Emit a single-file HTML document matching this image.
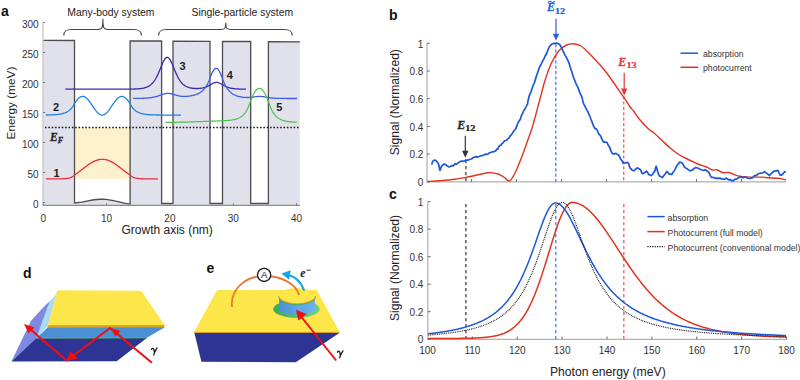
<!DOCTYPE html>
<html><head><meta charset="utf-8"><style>
html,body{margin:0;padding:0;background:#fff;width:800px;height:380px;overflow:hidden}
svg{display:block}
</style></head><body>
<svg width="800" height="380" viewBox="0 0 800 380">
<rect width="800" height="380" fill="#fff"/>
<polygon points="43.5,205.3 43.5,40.3 74.5,40.48 74.5,202.9 82,202.05 88,200.78 94,199.75 100,199.25 102.5,199.24 106,199.44 112,200.3 118,201.62 124,203.07 130.1,204.1 130.1,40.81 161.6,40.99 161.6,203.5 173,203.5 173,41.06 210,41.28 210,203.5 222.5,203.5 222.5,41.35 250.7,41.51 250.7,203.5 268.4,203.5 268.4,41.62 299.8,41.8 299.8,205.3" fill="#e1e1ec"/>
<rect x="74.5" y="127.6" width="55.6" height="51.3" fill="#fdf0cd"/>
<polyline points="43.5,40.3 74.5,40.48 74.5,202.9 82,202.05 88,200.78 94,199.75 100,199.25 102.5,199.24 106,199.44 112,200.3 118,201.62 124,203.07 130.1,204.1 130.1,40.81 161.6,40.99 161.6,203.5 173,203.5 173,41.06 210,41.28 210,203.5 222.5,203.5 222.5,41.35 250.7,41.51 250.7,203.5 268.4,203.5 268.4,41.62 299.8,41.8" fill="none" stroke="#4d4d4d" stroke-width="1.3" stroke-linejoin="miter"/>
<g stroke="#7a7a7a" stroke-width="1" fill="none">
<path d="M43,22.5V205.3" stroke="#b4b4b4"/>
<path d="M43,205.3H300" stroke="#8c8c8c" stroke-width="1.2"/>
<path d="M43,202.5h2.2"/>
<path d="M43,172.5h2.2"/>
<path d="M43,142.5h2.2"/>
<path d="M43,112.5h2.2"/>
<path d="M43,82.5h2.2"/>
<path d="M43,52.5h2.2"/>
<path d="M43,22.5h2.2"/>
<path d="M43.2,205.3v-2"/>
<path d="M106.55,205.3v-2"/>
<path d="M169.9,205.3v-2"/>
<path d="M233.25,205.3v-2"/>
<path d="M296.6,205.3v-2"/>
</g>
<path d="M45,127.5H299.5" stroke="#111" stroke-width="1.4" stroke-dasharray="1.5 1.86"/>
<polyline points="46,178.9 46.5,178.9 47,178.9 47.5,178.9 48,178.9 48.5,178.9 49,178.9 49.5,178.9 50,178.9 50.5,178.9 51,178.89 51.5,178.89 52,178.89 52.5,178.89 53,178.89 53.5,178.89 54,178.89 54.5,178.88 55,178.88 55.5,178.88 56,178.88 56.5,178.87 57,178.87 57.5,178.87 58,178.86 58.5,178.85 59,178.85 59.5,178.84 60,178.83 60.5,178.82 61,178.81 61.5,178.79 62,178.78 62.5,178.76 63,178.74 63.5,178.72 64,178.69 64.5,178.66 65,178.62 65.5,178.58 66,178.53 66.5,178.47 67,178.41 67.5,178.34 68,178.26 68.5,178.16 69,178.05 69.5,177.92 70,177.78 70.5,177.61 71,177.42 71.5,177.2 72,176.94 72.5,176.65 73,176.31 73.5,175.93 74,175.49 74.5,174.98 75,174.66 75.5,174.34 76,174 76.5,173.66 77,173.31 77.5,172.95 78,172.59 78.5,172.23 79,171.85 79.5,171.48 80,171.1 80.5,170.71 81,170.33 81.5,169.94 82,169.55 82.5,169.16 83,168.77 83.5,168.38 84,167.99 84.5,167.6 85,167.22 85.5,166.84 86,166.46 86.5,166.09 87,165.72 87.5,165.35 88,165 88.5,164.65 89,164.3 89.5,163.97 90,163.64 90.5,163.32 91,163.01 91.5,162.71 92,162.42 92.5,162.14 93,161.87 93.5,161.61 94,161.36 94.5,161.13 95,160.91 95.5,160.7 96,160.51 96.5,160.33 97,160.16 97.5,160.01 98,159.87 98.5,159.75 99,159.64 99.5,159.54 100,159.46 100.5,159.4 101,159.35 101.5,159.32 102,159.3 102.5,159.3 103,159.32 103.5,159.34 104,159.39 104.5,159.45 105,159.53 105.5,159.62 106,159.72 106.5,159.84 107,159.98 107.5,160.13 108,160.29 108.5,160.47 109,160.66 109.5,160.87 110,161.09 110.5,161.32 111,161.56 111.5,161.81 112,162.08 112.5,162.36 113,162.65 113.5,162.95 114,163.26 114.5,163.57 115,163.9 115.5,164.23 116,164.58 116.5,164.93 117,165.28 117.5,165.65 118,166.01 118.5,166.39 119,166.76 119.5,167.14 120,167.53 120.5,167.91 121,168.3 121.5,168.69 122,169.08 122.5,169.47 123,169.86 123.5,170.25 124,170.64 124.5,171.02 125,171.4 125.5,171.78 126,172.15 126.5,172.52 127,172.88 127.5,173.24 128,173.59 128.5,173.93 129,174.27 129.5,174.6 130,174.92 130.5,175.39 131,175.85 131.5,176.24 132,176.59 132.5,176.89 133,177.15 133.5,177.37 134,177.57 134.5,177.74 135,177.89 135.5,178.02 136,178.14 136.5,178.24 137,178.32 137.5,178.4 138,178.46 138.5,178.52 139,178.57 139.5,178.61 140,178.65 140.5,178.68 141,178.71 141.5,178.73 142,178.76 142.5,178.77 143,178.79 143.5,178.81 144,178.82 144.5,178.83 145,178.84 145.5,178.85 146,178.85 146.5,178.86 147,178.86 147.5,178.87 148,178.87 148.5,178.88 149,178.88 149.5,178.88 150,178.88 150.5,178.89 151,178.89 151.5,178.89 152,178.89 152.5,178.89 153,178.89 153.5,178.89 154,178.89 154.5,178.9 155,178.9 155.5,178.9 156,178.9 156.5,178.9 157,178.9 157.5,178.9 158,178.9" fill="none" stroke="#e5303a" stroke-width="1.3"/>
<polyline points="46,115.01 46.5,115.01 47,115 47.5,114.99 48,114.98 48.5,114.97 49,114.96 49.5,114.94 50,114.93 50.5,114.91 51,114.9 51.5,114.88 52,114.86 52.5,114.84 53,114.81 53.5,114.79 54,114.76 54.5,114.73 55,114.69 55.5,114.66 56,114.62 56.5,114.57 57,114.53 57.5,114.47 58,114.42 58.5,114.36 59,114.29 59.5,114.22 60,114.14 60.5,114.05 61,113.96 61.5,113.85 62,113.74 62.5,113.62 63,113.48 63.5,113.34 64,113.18 64.5,113.01 65,112.82 65.5,112.61 66,112.39 66.5,112.15 67,111.88 67.5,111.59 68,111.27 68.5,110.93 69,110.55 69.5,110.14 70,109.7 70.5,109.21 71,108.68 71.5,108.1 72,107.47 72.5,106.79 73,106.04 73.5,105.22 74,104.33 74.5,103.37 75,102.62 75.5,101.92 76,101.25 76.5,100.61 77,100 77.5,99.42 78,98.89 78.5,98.4 79,97.96 79.5,97.57 80,97.24 80.5,96.95 81,96.73 81.5,96.56 82,96.45 82.5,96.4 83,96.41 83.5,96.49 84,96.62 84.5,96.81 85,97.06 85.5,97.36 86,97.72 86.5,98.13 87,98.59 87.5,99.1 88,99.65 88.5,100.24 89,100.86 89.5,101.52 90,102.2 90.5,102.9 91,103.63 91.5,104.37 92,105.11 92.5,105.86 93,106.61 93.5,107.36 94,108.09 94.5,108.81 95,109.51 95.5,110.18 96,110.83 96.5,111.44 97,112.02 97.5,112.56 98,113.05 98.5,113.5 99,113.89 99.5,114.23 100,114.52 100.5,114.75 101,114.93 101.5,115.04 102,115.1 102.5,115.09 103,115.02 103.5,114.9 104,114.71 104.5,114.47 105,114.17 105.5,113.82 106,113.41 106.5,112.96 107,112.45 107.5,111.91 108,111.32 108.5,110.7 109,110.05 109.5,109.37 110,108.67 110.5,107.95 111,107.21 111.5,106.46 112,105.71 112.5,104.96 113,104.22 113.5,103.48 114,102.76 114.5,102.06 115,101.38 115.5,100.73 116,100.12 116.5,99.53 117,98.99 117.5,98.5 118,98.05 118.5,97.65 119,97.3 119.5,97 120,96.77 120.5,96.59 121,96.47 121.5,96.41 122,96.41 122.5,96.47 123,96.59 123.5,96.77 124,97 124.5,97.3 125,97.65 125.5,98.05 126,98.5 126.5,98.99 127,99.53 127.5,100.12 128,100.73 128.5,101.38 129,102.06 129.5,102.76 130,103.57 130.5,104.52 131,105.39 131.5,106.19 132,106.93 132.5,107.6 133,108.22 133.5,108.79 134,109.31 134.5,109.79 135,110.23 135.5,110.63 136,111 136.5,111.34 137,111.65 137.5,111.93 138,112.2 138.5,112.44 139,112.66 139.5,112.86 140,113.04 140.5,113.21 141,113.37 141.5,113.51 142,113.64 142.5,113.76 143,113.87 143.5,113.98 144,114.07 144.5,114.15 145,114.23 145.5,114.3 146,114.37 146.5,114.43 147,114.48 147.5,114.54 148,114.58 148.5,114.62 149,114.66 149.5,114.7 150,114.73 150.5,114.76 151,114.79 151.5,114.82 152,114.84 152.5,114.86 153,114.88 153.5,114.9 154,114.92 154.5,114.93 155,114.95 155.5,114.96 156,114.97 156.5,114.98 157,114.99 157.5,115 158,115.01 158.5,115.02 159,115.02 159.5,115.03 160,115.03 160.5,115.04 161,115.04 161.5,115.05 162,115.05 162.5,115.06 163,115.06 163.5,115.06 164,115.07 164.5,115.07 165,115.07 165.5,115.07 166,115.08 166.5,115.08 167,115.08 167.5,115.08 168,115.08 168.5,115.08 169,115.09 169.5,115.09 170,115.09 170.5,115.09 171,115.09 171.5,115.09 172,115.09 172.5,115.09 173,115.09 173.5,115.09 174,115.09 174.5,115.09 175,115.1 175.5,115.1 176,115.1 176.5,115.1 177,115.1 177.5,115.1 178,115.1 178.5,115.1 179,115.1 179.5,115.1 180,115.1 180.5,115.1 181,115.1" fill="none" stroke="#1f80e8" stroke-width="1.3"/>
<polyline points="65.3,89.2 65.8,89.2 66.3,89.2 66.8,89.2 67.3,89.2 67.8,89.2 68.3,89.2 68.8,89.2 69.3,89.2 69.8,89.2 70.3,89.2 70.8,89.2 71.3,89.2 71.8,89.2 72.3,89.2 72.8,89.2 73.3,89.2 73.8,89.2 74.3,89.2 74.8,89.2 75.3,89.2 75.8,89.2 76.3,89.2 76.8,89.2 77.3,89.2 77.8,89.2 78.3,89.2 78.8,89.2 79.3,89.2 79.8,89.2 80.3,89.2 80.8,89.2 81.3,89.2 81.8,89.2 82.3,89.2 82.8,89.2 83.3,89.2 83.8,89.2 84.3,89.2 84.8,89.2 85.3,89.2 85.8,89.2 86.3,89.2 86.8,89.2 87.3,89.2 87.8,89.2 88.3,89.2 88.8,89.2 89.3,89.2 89.8,89.2 90.3,89.2 90.8,89.2 91.3,89.2 91.8,89.2 92.3,89.2 92.8,89.2 93.3,89.2 93.8,89.2 94.3,89.2 94.8,89.2 95.3,89.2 95.8,89.2 96.3,89.2 96.8,89.2 97.3,89.2 97.8,89.2 98.3,89.2 98.8,89.2 99.3,89.2 99.8,89.2 100.3,89.2 100.8,89.2 101.3,89.2 101.8,89.2 102.3,89.2 102.8,89.2 103.3,89.2 103.8,89.2 104.3,89.2 104.8,89.2 105.3,89.2 105.8,89.2 106.3,89.2 106.8,89.2 107.3,89.2 107.8,89.2 108.3,89.2 108.8,89.2 109.3,89.2 109.8,89.2 110.3,89.2 110.8,89.2 111.3,89.2 111.8,89.2 112.3,89.2 112.8,89.2 113.3,89.2 113.8,89.2 114.3,89.2 114.8,89.2 115.3,89.2 115.8,89.2 116.3,89.2 116.8,89.19 117.3,89.19 117.8,89.19 118.3,89.19 118.8,89.19 119.3,89.19 119.8,89.19 120.3,89.19 120.8,89.19 121.3,89.19 121.8,89.19 122.3,89.18 122.8,89.18 123.3,89.18 123.8,89.18 124.3,89.18 124.8,89.17 125.3,89.17 125.8,89.17 126.3,89.16 126.8,89.16 127.3,89.16 127.8,89.15 128.3,89.15 128.8,89.14 129.3,89.13 129.8,89.13 130.3,89.12 130.8,89.11 131.3,89.1 131.8,89.09 132.3,89.08 132.8,89.07 133.3,89.06 133.8,89.04 134.3,89.02 134.8,89 135.3,88.98 135.8,88.96 136.3,88.94 136.8,88.91 137.3,88.88 137.8,88.85 138.3,88.81 138.8,88.77 139.3,88.72 139.8,88.67 140.3,88.62 140.8,88.56 141.3,88.49 141.8,88.42 142.3,88.33 142.8,88.25 143.3,88.15 143.8,88.04 144.3,87.92 144.8,87.79 145.3,87.64 145.8,87.48 146.3,87.31 146.8,87.11 147.3,86.9 147.8,86.67 148.3,86.42 148.8,86.14 149.3,85.83 149.8,85.5 150.3,85.14 150.8,84.74 151.3,84.31 151.8,83.84 152.3,83.33 152.8,82.78 153.3,82.18 153.8,81.54 154.3,80.85 154.8,80.1 155.3,79.31 155.8,78.46 156.3,77.56 156.8,76.6 157.3,75.6 157.8,74.54 158.3,73.44 158.8,72.3 159.3,71.13 159.8,69.93 160.3,68.71 160.8,67.48 161.3,66.26 161.8,65.05 162.3,63.88 162.8,62.76 163.3,61.7 163.8,60.72 164.3,59.84 164.8,59.07 165.3,58.42 165.8,57.92 166.3,57.56 166.8,57.35 167.3,57.3 167.8,57.41 168.3,57.68 168.8,58.1 169.3,58.67 169.8,59.36 170.3,60.18 170.8,61.1 171.3,62.11 171.8,63.2 172.3,64.34 172.8,65.53 173.3,66.74 173.8,67.97 174.3,69.19 174.8,70.41 175.3,71.6 175.8,72.76 176.3,73.89 176.8,74.97 177.3,76 177.8,76.99 178.3,77.92 178.8,78.8 179.3,79.62 179.8,80.4 180.3,81.12 180.8,81.79 181.3,82.42 181.8,82.99 182.3,83.53 182.8,84.02 183.3,84.47 183.8,84.88 184.3,85.26 184.8,85.61 185.3,85.93 185.8,86.22 186.3,86.49 186.8,86.73 187.3,86.95 187.8,87.15 188.3,87.33 188.8,87.49 189.3,87.64 189.8,87.77 190.3,87.89 190.8,87.99 191.3,88.09 191.8,88.17 192.3,88.24 192.8,88.31 193.3,88.36 193.8,88.41 194.3,88.45 194.8,88.48 195.3,88.5 195.8,88.52 196.3,88.52 196.8,88.53 197.3,88.52 197.8,88.51 198.3,88.49 198.8,88.46 199.3,88.42 199.8,88.38 200.3,88.33 200.8,88.26 201.3,88.19 201.8,88.11 202.3,88.02 202.8,87.92 203.3,87.8 203.8,87.67 204.3,87.53 204.8,87.38 205.3,87.21 205.8,87.03 206.3,86.83 206.8,86.62 207.3,86.4 207.8,86.16 208.3,85.91 208.8,85.64 209.3,85.37 209.8,85.09 210.3,84.8 210.8,84.51 211.3,84.23 211.8,83.95 212.3,83.67 212.8,83.42 213.3,83.18 213.8,82.97 214.3,82.78 214.8,82.63 215.3,82.51 215.8,82.43 216.3,82.4 216.8,82.4 217.3,82.45 217.8,82.53 218.3,82.66 218.8,82.82 219.3,83.01 219.8,83.23 220.3,83.48 220.8,83.74 221.3,84.02 221.8,84.3 222.3,84.59 222.8,84.88 223.3,85.17 223.8,85.45 224.3,85.73 224.8,85.99 225.3,86.25 225.8,86.49 226.3,86.71 226.8,86.93 227.3,87.13 227.8,87.31 228.3,87.48 228.8,87.64 229.3,87.79 229.8,87.92 230.3,88.04 230.8,88.15 231.3,88.26 231.8,88.35 232.3,88.43 232.8,88.51 233.3,88.58 233.8,88.64 234.3,88.7 234.8,88.75 235.3,88.8 235.8,88.84 236.3,88.87 236.8,88.91 237.3,88.94 237.8,88.96 238.3,88.99 238.8,89.01 239.3,89.03 239.8,89.05 240.3,89.06 240.8,89.08 241.3,89.09 241.8,89.1 242.3,89.11 242.8,89.12 243.3,89.13 243.8,89.14 244.3,89.14 244.8,89.15 245.3,89.15 245.8,89.16 246,89.16" fill="none" stroke="#3b2aa8" stroke-width="1.3"/>
<polyline points="133.2,98.46 133.7,98.46 134.2,98.45 134.7,98.45 135.2,98.45 135.7,98.44 136.2,98.44 136.7,98.43 137.2,98.42 137.7,98.42 138.2,98.41 138.7,98.4 139.2,98.39 139.7,98.38 140.2,98.37 140.7,98.36 141.2,98.34 141.7,98.33 142.2,98.31 142.7,98.29 143.2,98.27 143.7,98.25 144.2,98.23 144.7,98.21 145.2,98.18 145.7,98.15 146.2,98.12 146.7,98.08 147.2,98.04 147.7,98 148.2,97.96 148.7,97.91 149.2,97.86 149.7,97.8 150.2,97.74 150.7,97.67 151.2,97.6 151.7,97.52 152.2,97.44 152.7,97.35 153.2,97.26 153.7,97.16 154.2,97.05 154.7,96.93 155.2,96.81 155.7,96.68 156.2,96.55 156.7,96.41 157.2,96.26 157.7,96.1 158.2,95.94 158.7,95.77 159.2,95.6 159.7,95.43 160.2,95.25 160.7,95.07 161.2,94.9 161.7,94.72 162.2,94.55 162.7,94.38 163.2,94.22 163.7,94.07 164.2,93.93 164.7,93.8 165.2,93.69 165.7,93.59 166.2,93.51 166.7,93.45 167.2,93.41 167.7,93.38 168.2,93.38 168.7,93.4 169.2,93.43 169.7,93.49 170.2,93.56 170.7,93.65 171.2,93.75 171.7,93.87 172.2,94 172.7,94.13 173.2,94.27 173.7,94.42 174.2,94.57 174.7,94.72 175.2,94.87 175.7,95.02 176.2,95.17 176.7,95.31 177.2,95.45 177.7,95.57 178.2,95.7 178.7,95.81 179.2,95.91 179.7,96.01 180.2,96.09 180.7,96.17 181.2,96.24 181.7,96.29 182.2,96.34 182.7,96.38 183.2,96.41 183.7,96.43 184.2,96.44 184.7,96.44 185.2,96.43 185.7,96.42 186.2,96.39 186.7,96.36 187.2,96.32 187.7,96.28 188.2,96.22 188.7,96.16 189.2,96.09 189.7,96.02 190.2,95.94 190.7,95.85 191.2,95.76 191.7,95.66 192.2,95.55 192.7,95.44 193.2,95.31 193.7,95.19 194.2,95.05 194.7,94.9 195.2,94.75 195.7,94.59 196.2,94.41 196.7,94.23 197.2,94.03 197.7,93.81 198.2,93.58 198.7,93.34 199.2,93.08 199.7,92.79 200.2,92.49 200.7,92.16 201.2,91.8 201.7,91.42 202.2,91 202.7,90.55 203.2,90.07 203.7,89.55 204.2,88.98 204.7,88.38 205.2,87.72 205.7,87.01 206.2,86.24 206.7,85.42 207.2,84.52 207.7,83.56 208.2,82.53 208.7,81.41 209.2,80.21 209.7,78.92 210.2,77.53 210.7,76.21 211.2,74.95 211.7,73.76 212.2,72.68 212.7,71.69 213.2,70.81 213.7,70.06 214.2,69.43 214.7,68.94 215.2,68.59 215.7,68.39 216.2,68.33 216.7,68.41 217.2,68.64 217.7,69.02 218.2,69.53 218.7,70.18 219.2,70.96 219.7,71.87 220.2,72.88 220.7,74 221.2,75.21 221.7,76.5 222.2,77.85 222.7,79.27 223.2,80.59 223.7,81.83 224.2,82.98 224.7,84.05 225.2,85.04 225.7,85.97 226.2,86.83 226.7,87.64 227.2,88.39 227.7,89.08 228.2,89.73 228.7,90.33 229.2,90.89 229.7,91.42 230.2,91.9 230.7,92.36 231.2,92.78 231.7,93.17 232.2,93.54 232.7,93.87 233.2,94.19 233.7,94.48 234.2,94.76 234.7,95.01 235.2,95.24 235.7,95.46 236.2,95.67 236.7,95.85 237.2,96.03 237.7,96.19 238.2,96.34 238.7,96.48 239.2,96.6 239.7,96.72 240.2,96.83 240.7,96.92 241.2,97.01 241.7,97.09 242.2,97.17 242.7,97.23 243.2,97.29 243.7,97.34 244.2,97.38 244.7,97.42 245.2,97.45 245.7,97.47 246.2,97.49 246.7,97.5 247.2,97.5 247.7,97.5 248.2,97.49 248.7,97.48 249.2,97.45 249.7,97.43 250.2,97.39 250.7,97.35 251.2,97.3 251.7,97.25 252.2,97.2 252.7,97.13 253.2,97.07 253.7,97 254.2,96.93 254.7,96.86 255.2,96.79 255.7,96.72 256.2,96.66 256.7,96.6 257.2,96.54 257.7,96.5 258.2,96.46 258.7,96.43 259.2,96.41 259.7,96.4 260.2,96.41 260.7,96.43 261.2,96.46 261.7,96.5 262.2,96.55 262.7,96.61 263.2,96.67 263.7,96.75 264.2,96.83 264.7,96.91 265.2,97 265.7,97.09 266.2,97.18 266.7,97.26 267.2,97.35 267.7,97.43 268.2,97.51 268.7,97.59 269.2,97.66 269.7,97.73 270.2,97.8 270.7,97.86 271.2,97.92 271.7,97.97 272.2,98.02 272.7,98.06 273.2,98.1 273.7,98.14 274.2,98.17 274.7,98.21 275.2,98.23 275.7,98.26 276.2,98.28 276.7,98.31 277.2,98.32 277.7,98.34 278.2,98.36 278.7,98.37 279.2,98.38 279.7,98.4 280.2,98.41 280.7,98.42 281.2,98.42 281.7,98.43 282.2,98.44 282.7,98.45 283.2,98.45 283.7,98.46 284.2,98.46 284.7,98.46 285.2,98.47 285.7,98.47 286.2,98.47 286.7,98.48 287.2,98.48 287.7,98.48 288.2,98.48 288.7,98.48 289.2,98.49 289.7,98.49 290.2,98.49 290.7,98.49 291.2,98.49 291.7,98.49 292.2,98.49 292.7,98.49 293.2,98.49 293.7,98.49 294.2,98.5 294.7,98.5 295.2,98.5 295.7,98.5 296.2,98.5 296.7,98.5 297,98.5" fill="none" stroke="#3d5cee" stroke-width="1.3"/>
<polyline points="165.4,122.42 165.9,122.41 166.4,122.41 166.9,122.4 167.4,122.4 167.9,122.4 168.4,122.39 168.9,122.39 169.4,122.38 169.9,122.37 170.4,122.37 170.9,122.36 171.4,122.36 171.9,122.35 172.4,122.34 172.9,122.34 173.4,122.33 173.9,122.32 174.4,122.31 174.9,122.31 175.4,122.3 175.9,122.29 176.4,122.28 176.9,122.27 177.4,122.26 177.9,122.25 178.4,122.25 178.9,122.24 179.4,122.23 179.9,122.21 180.4,122.2 180.9,122.19 181.4,122.18 181.9,122.17 182.4,122.16 182.9,122.15 183.4,122.13 183.9,122.12 184.4,122.11 184.9,122.1 185.4,122.08 185.9,122.07 186.4,122.05 186.9,122.04 187.4,122.03 187.9,122.01 188.4,122 188.9,121.98 189.4,121.97 189.9,121.95 190.4,121.93 190.9,121.92 191.4,121.9 191.9,121.89 192.4,121.87 192.9,121.85 193.4,121.83 193.9,121.82 194.4,121.8 194.9,121.78 195.4,121.76 195.9,121.75 196.4,121.73 196.9,121.71 197.4,121.69 197.9,121.67 198.4,121.65 198.9,121.63 199.4,121.62 199.9,121.6 200.4,121.58 200.9,121.56 201.4,121.54 201.9,121.52 202.4,121.5 202.9,121.48 203.4,121.46 203.9,121.45 204.4,121.43 204.9,121.41 205.4,121.39 205.9,121.37 206.4,121.35 206.9,121.33 207.4,121.32 207.9,121.3 208.4,121.28 208.9,121.26 209.4,121.24 209.9,121.23 210.4,121.21 210.9,121.19 211.4,121.17 211.9,121.16 212.4,121.14 212.9,121.12 213.4,121.1 213.9,121.09 214.4,121.07 214.9,121.05 215.4,121.04 215.9,121.02 216.4,121 216.9,120.99 217.4,120.97 217.9,120.95 218.4,120.94 218.9,120.92 219.4,120.9 219.9,120.88 220.4,120.86 220.9,120.85 221.4,120.83 221.9,120.81 222.4,120.79 222.9,120.76 223.4,120.74 223.9,120.72 224.4,120.69 224.9,120.67 225.4,120.64 225.9,120.61 226.4,120.58 226.9,120.55 227.4,120.51 227.9,120.47 228.4,120.43 228.9,120.39 229.4,120.34 229.9,120.29 230.4,120.23 230.9,120.17 231.4,120.1 231.9,120.03 232.4,119.95 232.9,119.87 233.4,119.78 233.9,119.68 234.4,119.57 234.9,119.45 235.4,119.32 235.9,119.18 236.4,119.03 236.9,118.86 237.4,118.68 237.9,118.49 238.4,118.27 238.9,118.04 239.4,117.79 239.9,117.52 240.4,117.22 240.9,116.89 241.4,116.54 241.9,116.16 242.4,115.74 242.9,115.29 243.4,114.8 243.9,114.27 244.4,113.69 244.9,113.06 245.4,112.37 245.9,111.63 246.4,110.82 246.9,109.94 247.4,108.99 247.9,107.96 248.4,106.84 248.9,105.62 249.4,104.3 249.9,102.87 250.4,101.32 250.9,99.9 251.4,98.75 251.9,97.62 252.4,96.54 252.9,95.5 253.4,94.52 253.9,93.59 254.4,92.72 254.9,91.92 255.4,91.19 255.9,90.54 256.4,89.97 256.9,89.48 257.4,89.07 257.9,88.75 258.4,88.52 258.9,88.38 259.4,88.33 259.9,88.37 260.4,88.51 260.9,88.74 261.4,89.05 261.9,89.46 262.4,89.95 262.9,90.52 263.4,91.17 263.9,91.9 264.4,92.71 264.9,93.58 265.4,94.51 265.9,95.51 266.4,96.56 266.9,97.65 267.4,98.79 267.9,99.96 268.4,101.22 268.9,102.85 269.4,104.36 269.9,105.75 270.4,107.04 270.9,108.23 271.4,109.32 271.9,110.33 272.4,111.26 272.9,112.13 273.4,112.92 273.9,113.65 274.4,114.33 274.9,114.96 275.4,115.53 275.9,116.07 276.4,116.56 276.9,117.01 277.4,117.43 277.9,117.82 278.4,118.18 278.9,118.51 279.4,118.81 279.9,119.09 280.4,119.35 280.9,119.59 281.4,119.81 281.9,120.02 282.4,120.21 282.9,120.38 283.4,120.54 283.9,120.69 284.4,120.83 284.9,120.96 285.4,121.07 285.9,121.18 286.4,121.28 286.9,121.37 287.4,121.46 287.9,121.54 288.4,121.61 288.9,121.68 289.4,121.74 289.9,121.8 290.4,121.85 290.9,121.9 291.4,121.95 291.9,121.99 292.4,122.03 292.9,122.06 293.4,122.1 293.9,122.13 294.4,122.15 294.9,122.18 295.4,122.2 295.9,122.23 296.4,122.25 296.9,122.27 297,122.27" fill="none" stroke="#4cc04c" stroke-width="1.2"/>
<path d="M63.8,35.5 C63.8,30.5 66.8,29.5 71.8,29.5 H97.9 C101.9,29.5 102.9,28.5 102.9,18.7 C102.9,28.5 103.9,29.5 107.9,29.5 H133.4 C138.4,29.5 141.4,30.5 141.4,35.5" fill="none" stroke="#444" stroke-width="1.1"/>
<path d="M158.6,35.5 C158.6,30.5 161.6,29.5 166.6,29.5 H220.8 C224.8,29.5 225.8,28.5 225.8,22.7 C225.8,28.5 226.8,29.5 230.8,29.5 H284.2 C289.2,29.5 292.2,30.5 292.2,35.5" fill="none" stroke="#444" stroke-width="1.1"/>
<text x="1" y="15.8" font-family="Liberation Sans" font-size="14" font-weight="bold" font-style="normal" text-anchor="start" fill="#111" >a</text>
<text x="110.9" y="15.8" font-family="Liberation Sans" font-size="10.4" font-weight="normal" font-style="normal" text-anchor="middle" fill="#222" >Many-body system</text>
<text x="242.3" y="15.8" font-family="Liberation Sans" font-size="10.4" font-weight="normal" font-style="normal" text-anchor="middle" fill="#222" >Single-particle system</text>
<text x="38.6" y="208.2" font-family="Liberation Sans" font-size="10" font-weight="normal" font-style="normal" text-anchor="end" fill="#333" >0</text>
<text x="38.6" y="178.2" font-family="Liberation Sans" font-size="10" font-weight="normal" font-style="normal" text-anchor="end" fill="#333" >50</text>
<text x="38.6" y="148.2" font-family="Liberation Sans" font-size="10" font-weight="normal" font-style="normal" text-anchor="end" fill="#333" >100</text>
<text x="38.6" y="118.2" font-family="Liberation Sans" font-size="10" font-weight="normal" font-style="normal" text-anchor="end" fill="#333" >150</text>
<text x="38.6" y="88.2" font-family="Liberation Sans" font-size="10" font-weight="normal" font-style="normal" text-anchor="end" fill="#333" >200</text>
<text x="38.6" y="58.2" font-family="Liberation Sans" font-size="10" font-weight="normal" font-style="normal" text-anchor="end" fill="#333" >250</text>
<text x="38.6" y="28.2" font-family="Liberation Sans" font-size="10" font-weight="normal" font-style="normal" text-anchor="end" fill="#333" >300</text>
<text x="43.2" y="221.8" font-family="Liberation Sans" font-size="10" font-weight="normal" font-style="normal" text-anchor="middle" fill="#333" >0</text>
<text x="106.55" y="221.8" font-family="Liberation Sans" font-size="10" font-weight="normal" font-style="normal" text-anchor="middle" fill="#333" >10</text>
<text x="169.9" y="221.8" font-family="Liberation Sans" font-size="10" font-weight="normal" font-style="normal" text-anchor="middle" fill="#333" >20</text>
<text x="233.25" y="221.8" font-family="Liberation Sans" font-size="10" font-weight="normal" font-style="normal" text-anchor="middle" fill="#333" >30</text>
<text x="296.6" y="221.8" font-family="Liberation Sans" font-size="10" font-weight="normal" font-style="normal" text-anchor="middle" fill="#333" >40</text>
<text x="167.2" y="234" font-family="Liberation Sans" font-size="12" font-weight="normal" font-style="normal" text-anchor="middle" fill="#222" >Growth axis (nm)</text>
<text transform="translate(14.6,103) rotate(-90)" font-family="Liberation Sans" font-size="11.8" text-anchor="middle" fill="#222">Energy (meV)</text>
<text x="53.4" y="177.3" font-family="Liberation Sans" font-size="11" font-weight="bold" font-style="normal" text-anchor="start" fill="#222" >1</text>
<text x="53.1" y="110.9" font-family="Liberation Sans" font-size="11" font-weight="bold" font-style="normal" text-anchor="start" fill="#222" >2</text>
<text x="179.4" y="69.7" font-family="Liberation Sans" font-size="11" font-weight="bold" font-style="normal" text-anchor="start" fill="#222" >3</text>
<text x="226.8" y="79.1" font-family="Liberation Sans" font-size="11" font-weight="bold" font-style="normal" text-anchor="start" fill="#222" >4</text>
<text x="276.3" y="110.7" font-family="Liberation Sans" font-size="11" font-weight="bold" font-style="normal" text-anchor="start" fill="#222" >5</text>
<text x="50" y="140.8" font-family="Liberation Serif" font-size="11.5" font-weight="bold" font-style="italic" fill="#222" stroke="#222" stroke-width="0.35">E<tspan font-size="8" dy="2.6">F</tspan></text>
<text x="389" y="20" font-family="Liberation Sans" font-size="14" font-weight="bold" font-style="normal" text-anchor="start" fill="#111" >b</text>
<g stroke="#6a6a6a" stroke-width="1" fill="none">
<path d="M427,43.3V181.9H786.5" stroke="#b0b0b0" stroke-width="1.2"/>
<path d="M427,181.8h2.8"/>
<path d="M427,154.1h2.8"/>
<path d="M427,126.4h2.8"/>
<path d="M427,98.7h2.8"/>
<path d="M427,71h2.8"/>
<path d="M427,43.3h2.8"/>
<path d="M471.5,181.9v-2.8"/>
<path d="M516.5,181.9v-2.8"/>
<path d="M561.5,181.9v-2.8"/>
<path d="M606.5,181.9v-2.8"/>
<path d="M651.5,181.9v-2.8"/>
<path d="M696.5,181.9v-2.8"/>
<path d="M741.5,181.9v-2.8"/>
</g>
<text x="423.3" y="186" font-family="Liberation Sans" font-size="10" font-weight="normal" font-style="normal" text-anchor="end" fill="#333" >0</text>
<text x="423.3" y="158.3" font-family="Liberation Sans" font-size="10" font-weight="normal" font-style="normal" text-anchor="end" fill="#333" >0.2</text>
<text x="423.3" y="130.6" font-family="Liberation Sans" font-size="10" font-weight="normal" font-style="normal" text-anchor="end" fill="#333" >0.4</text>
<text x="423.3" y="102.9" font-family="Liberation Sans" font-size="10" font-weight="normal" font-style="normal" text-anchor="end" fill="#333" >0.6</text>
<text x="423.3" y="75.2" font-family="Liberation Sans" font-size="10" font-weight="normal" font-style="normal" text-anchor="end" fill="#333" >0.8</text>
<text x="423.3" y="47.5" font-family="Liberation Sans" font-size="10" font-weight="normal" font-style="normal" text-anchor="end" fill="#333" >1</text>
<text transform="translate(398.6,102.2) rotate(-90)" font-family="Liberation Sans" font-size="12.1" text-anchor="middle" fill="#222">Signal (Normalized)</text>
<path d="M465.9,160V182" stroke="#666" stroke-width="1.6" stroke-dasharray="3.2 2.8"/>
<path d="M555.8,44V182" stroke="#5a86ec" stroke-width="1.4" stroke-dasharray="3.2 2.2"/>
<path d="M623.7,96V182" stroke="#ee6a6a" stroke-width="1.4" stroke-dasharray="3.2 2.2"/>
<path d="M427,181.5 C429.17,181.38 435.33,181.17 440,180.8 C444.67,180.43 450,180.02 455,179.3 C460,178.58 464.5,177.6 470,176.5 C475.5,175.4 483.5,173.16 488,172.7 C492.5,172.24 495,173.4 497,173.75 C499,174.1 498.75,174.18 500,174.8 C501.25,175.43 502.92,176.47 504.5,177.5 C506.08,178.53 507.75,181.75 509.5,181 C511.25,180.25 512.83,177.33 515,173 C517.17,168.67 520,161.5 522.5,155 C525,148.5 528.25,139 530,134 C531.75,129 531.25,131.17 533,125 C534.75,118.83 538.5,104.42 540.5,97 C542.5,89.58 543.25,86 545,80.5 C546.75,75 548.75,68.88 551,64 C553.25,59.12 556,54.38 558.5,51.25 C561,48.12 563.5,46.5 566,45.25 C568.5,44 571,43.62 573.5,43.75 C576,43.88 578.25,44.25 581,46 C583.75,47.75 586,50.12 590,54.25 C594,58.38 599.5,63.76 605,70.75 C610.5,77.74 618.83,90.2 623,96.2 C627.17,102.2 628.21,104.24 630,106.75 C631.79,109.26 632.25,109.25 633.75,111.25 C635.25,113.25 636.62,115.88 639,118.75 C641.38,121.62 645.5,126.12 648,128.5 C650.5,130.88 651.75,131.08 654,133 C656.25,134.92 658.75,137.46 661.5,140 C664.25,142.54 667.5,145.75 670.5,148.25 C673.5,150.75 676.25,153 679.5,155 C682.75,157 687,158.75 690,160.25 C693,161.75 694.75,162.88 697.5,164 C700.25,165.12 704,166 706.5,167 C709,168 710.75,169.55 712.5,170 C714.25,170.45 715.25,169.25 717,169.7 C718.75,170.15 721,172.23 723,172.7 C725,173.17 726.52,171.97 729,172.5 C731.48,173.03 734.32,175.13 737.9,175.9 C741.48,176.67 746.3,176.9 750.5,177.1 C754.7,177.3 760.37,176.98 763.1,177.1 C765.83,177.22 764.17,177.58 766.9,177.8 C769.63,178.02 776.33,178.03 779.5,178.4 C782.67,178.77 784.83,179.73 785.9,180" fill="none" stroke="#e2321e" stroke-width="1.4"/>
<polyline points="431.75,164.63 432.31,162.41 433.25,160.67 434.7,160.08 436.25,160.88 437.47,162.12 438.5,163.92 438.93,165.78 439.3,167.62 439.64,169.61 440,170.35 440.47,169.48 440.94,167.67 441.5,166.36 443.75,164.12 445.25,164.38 447.08,165.77 449,167 450.34,166.52 451.67,165.62 453.17,165.85 455,163.88 456.25,164.33 457.63,163.21 459.11,162.15 460.66,161.31 462.26,160.97 463.88,161.43 465.5,160.22 466.94,160.19 468.43,160.05 469.96,159.28 471.5,159.01 473.04,157.78 474.57,156.99 476.06,156.65 477.5,157.11 479.1,156.53 480.7,155.76 482.26,155.6 483.79,154.99 485.26,154.14 486.67,154.36 488,154.01 489.74,152.6 491.36,152.23 492.86,151.64 494.24,151.63 495.5,150.93 496.75,149.18 497.72,149.07 498.7,146.79 500,145.46 500.97,145.19 502.06,143.42 503.24,142.63 504.46,140.84 505.69,140.53 506.88,139.91 508,138.62 509.05,137.94 510.06,135.99 511.04,135.14 512.02,133.85 512.99,132.46 513.98,130.72 515,129.64 515.67,128.88 516.37,126.89 517.09,125.5 517.82,122.92 518.54,122.03 519.27,120.67 519.97,119.84 520.66,118.36 521.31,116 521.93,114.46 522.5,113.73 523.63,110.75 524.64,109.59 525.52,107.94 526.31,106.43 527,104.74 527.44,104.57 527.72,102.63 527.94,101.2 528.17,99.96 528.49,99.29 529,96.44 529.41,95.4 529.88,94.32 530.4,93.18 530.96,91.76 531.55,90.28 532.15,88.31 532.76,86.64 533.36,84.98 533.94,83.74 534.5,82.42 535.04,80.42 535.57,78.68 536.09,77.06 536.62,75.46 537.14,74.06 537.66,72.67 538.18,71 538.7,69.29 539.23,68.07 539.75,66.8 540.5,65.22 541.25,63.98 542,62.47 542.75,60.92 543.5,59.53 544.25,58.16 545,56.27 545.66,55.28 546.31,53.89 546.97,52.47 547.62,50.95 548.28,49.21 548.94,47.76 549.59,46.34 550.25,45.66 552.06,43.97 553.86,43.42 555.5,43.34 557.47,43.16 559.25,44.2 559.96,44.93 560.64,45.96 561.34,47.39 562.11,48.97 563,50.93 563.65,52.01 564.38,53.88 565.15,55.37 565.95,56.58 566.76,58.09 567.55,59.74 568.31,61.41 569,62.9 569.57,64.84 570.1,66.72 570.61,68.12 571.1,69.69 571.58,71.04 572.06,72.55 572.53,74.25 573.01,75.77 573.5,77.6 574.15,79.02 574.81,80.4 575.47,82.47 576.12,83.88 576.77,85.01 577.4,86.55 578,87.64 578.69,89.46 579.36,91.44 580.02,93.06 580.64,94.47 581.22,95.57 581.75,96.89 582.26,98.32 582.65,100.17 583.01,101.62 583.43,103.24 584,104.48 584.76,105.7 585.64,107.68 586.59,109.65 587.56,111.24 588.5,113.06 589,114.33 589.5,115.67 590,116.3 590.5,118.08 591,119.53 591.5,120.48 592,121.71 592.5,123.39 593,124.63 594.12,127.08 595.25,128.77 596.38,128.96 597.5,130.91 598.17,132.49 598.87,134.08 599.59,134.69 600.28,135.64 600.93,136.91 601.51,138.1 602,139.09 603.5,142.06 604.72,141.95 606.5,142.4 607.12,142.77 607.82,144.15 608.6,146.03 609.41,146.6 610.23,148.85 611.04,151.16 611.8,152.61 612.5,153.59 614.17,154.11 615.67,153.24 617,154.13 618.58,154.97 620,157.47 620.78,159.4 621.58,160.24 622.4,161.41 623.25,163.28 625,163.13 627,162.25 627.79,162.64 628.64,163.82 629.53,166.68 630.44,168.63 631.36,168.9 632.25,170.44 634,170.75 635.75,169.04 637.5,167.82 638.57,168.61 639.67,169.19 640.76,170.14 641.8,172.91 642.75,173.72 644.08,173 645.25,172.21 646.5,171.03 647.59,172.54 648.75,174.44 649.91,175.1 651,175.51 652.39,174.63 653.69,172.63 654.75,171.33 655.39,169.07 655.78,167.29 656.25,166.17 656.72,168.35 657.23,169.81 657.81,171.94 658.5,173.85 659.61,176.08 660.89,176.65 662.25,177.59 663.32,176.36 664.45,174.73 665.61,173.17 666.75,171.45 668.11,172.81 669.47,174.36 671.25,174.01 671.93,174.51 672.7,172.82 673.52,171.7 674.39,170.68 675.28,168.95 676.18,166.85 677.07,165.43 677.93,164.22 678.75,163.66 679.5,162.04 680.84,162.35 682.06,162.95 683.21,164.38 684.34,166.81 685.5,167.86 687.04,168.8 688.59,169.91 690.11,170.84 691.5,170.34 693.06,169.62 694.44,168.15 696,167.4 697.43,168.07 699,168.62 700.57,169.54 702,170.01 703.56,170.47 704.94,169.68 706.5,170.25 707.4,171.43 708.33,171.7 709.31,173.38 710.33,175.77 711.4,177.4 712.5,177.3 713.93,177.55 715.46,178.37 717.04,178.12 718.57,178.32 720,178.12 721.61,178.94 723.09,179.18 724.54,179.27 726,178.03 727.41,178.95 728.77,179.81 730.24,179.59 732,180.68 733.41,180.9 734.99,179.13 736.67,179.12 738.4,177.66 740.09,176.88 741.7,177.41 743.28,177.62 744.89,176.9 746.47,177.48 747.97,178.25 749.33,178.48 750.5,178.31 751.86,177.97 752.66,177.77 754.3,175.69 755.41,175.72 756.8,175.14 758.36,173.72 760.01,173.25 761.65,173.22 763.21,172.73 764.59,171.54 765.7,172.61 767.79,174.06 769.4,175.79 770.74,173.94 772.37,172.67 774.09,171.02 775.7,171.2 777,170.4 778.3,170.9 779.11,173.03 780.2,175.11 781.58,175.08 783.25,173.31 784.82,171.71 785.9,172.16" fill="none" stroke="#1d58d8" stroke-width="1.7" stroke-linejoin="round"/>
<path d="M556,18.7V34.8" stroke="#2563dc" stroke-width="1.2"/>
<path d="M552.8,33.8L559.2,33.8L556,40.8Z" fill="#2563dc"/>
<path d="M624.2,72.7V89.5" stroke="#e23a3a" stroke-width="1.2"/>
<path d="M621,88.5L627.4,88.5L624.2,95.5Z" fill="#e23a3a"/>
<path d="M465.3,135.8V151.7" stroke="#333" stroke-width="1.2"/>
<path d="M462.1,150.7L468.5,150.7L465.3,157.7Z" fill="#333"/>
<text x="547" y="11.4" font-family="Liberation Serif" font-size="12" font-weight="bold" font-style="italic" fill="#2563dc" stroke="#2563dc" stroke-width="0.3">E</text>
<text transform="translate(554.9,13.8) scale(1.18,1)" font-family="Liberation Serif" font-size="8.6" font-weight="bold" fill="#2563dc" stroke="#2563dc" stroke-width="0.25">12</text>
<text x="618.3" y="66.1" font-family="Liberation Serif" font-size="12" font-weight="bold" font-style="italic" fill="#e23a3a" stroke="#e23a3a" stroke-width="0.3">E</text>
<text transform="translate(626.4,68.1) scale(1.18,1)" font-family="Liberation Serif" font-size="8.6" font-weight="bold" fill="#e23a3a" stroke="#e23a3a" stroke-width="0.25">13</text>
<text x="457.2" y="128.6" font-family="Liberation Serif" font-size="12" font-weight="bold" font-style="italic" fill="#222" stroke="#222" stroke-width="0.3">E</text>
<text transform="translate(465.3,131) scale(1.18,1)" font-family="Liberation Serif" font-size="8.6" font-weight="bold" fill="#222" stroke="#222" stroke-width="0.25">12</text>
<path d="M548,2.7 C549,1 550.4,1 551.3,1.9 S553.6,2.9 554.6,1.1" stroke="#2563dc" stroke-width="1.1" fill="none"/>
<path d="M680.5,53.2H698" stroke="#1d58d8" stroke-width="1.5"/>
<path d="M680.5,67.3H698" stroke="#e2321e" stroke-width="1.5"/>
<text x="703" y="56.5" font-family="Liberation Sans" font-size="8.7" font-weight="normal" font-style="normal" text-anchor="start" fill="#333" >absorption</text>
<text x="703" y="70.6" font-family="Liberation Sans" font-size="8.7" font-weight="normal" font-style="normal" text-anchor="start" fill="#333" >photocurrent</text>
<text x="389" y="198.7" font-family="Liberation Sans" font-size="14" font-weight="bold" font-style="normal" text-anchor="start" fill="#111" >c</text>
<g stroke="#6a6a6a" stroke-width="1" fill="none">
<path d="M427.8,201.7V339.3H786.5" stroke="#b0b0b0" stroke-width="1.2"/>
<path d="M427.8,339.2h2.8"/>
<path d="M427.8,311.7h2.8"/>
<path d="M427.8,284.2h2.8"/>
<path d="M427.8,256.7h2.8"/>
<path d="M427.8,229.2h2.8"/>
<path d="M427.8,201.7h2.8"/>
<path d="M472.38,339.3v-2.8"/>
<path d="M517.25,339.3v-2.8"/>
<path d="M562.12,339.3v-2.8"/>
<path d="M607,339.3v-2.8"/>
<path d="M651.88,339.3v-2.8"/>
<path d="M696.75,339.3v-2.8"/>
<path d="M741.62,339.3v-2.8"/>
<path d="M786.5,339.3v-2.8"/>
</g>
<text x="423.3" y="343.4" font-family="Liberation Sans" font-size="10" font-weight="normal" font-style="normal" text-anchor="end" fill="#333" >0</text>
<text x="423.3" y="315.9" font-family="Liberation Sans" font-size="10" font-weight="normal" font-style="normal" text-anchor="end" fill="#333" >0.2</text>
<text x="423.3" y="288.4" font-family="Liberation Sans" font-size="10" font-weight="normal" font-style="normal" text-anchor="end" fill="#333" >0.4</text>
<text x="423.3" y="260.9" font-family="Liberation Sans" font-size="10" font-weight="normal" font-style="normal" text-anchor="end" fill="#333" >0.6</text>
<text x="423.3" y="233.4" font-family="Liberation Sans" font-size="10" font-weight="normal" font-style="normal" text-anchor="end" fill="#333" >0.8</text>
<text x="423.3" y="205.9" font-family="Liberation Sans" font-size="10" font-weight="normal" font-style="normal" text-anchor="end" fill="#333" >1</text>
<text x="427.5" y="354" font-family="Liberation Sans" font-size="10" font-weight="normal" font-style="normal" text-anchor="middle" fill="#333" >100</text>
<text x="472.38" y="354" font-family="Liberation Sans" font-size="10" font-weight="normal" font-style="normal" text-anchor="middle" fill="#333" >110</text>
<text x="517.25" y="354" font-family="Liberation Sans" font-size="10" font-weight="normal" font-style="normal" text-anchor="middle" fill="#333" >120</text>
<text x="562.12" y="354" font-family="Liberation Sans" font-size="10" font-weight="normal" font-style="normal" text-anchor="middle" fill="#333" >130</text>
<text x="607" y="354" font-family="Liberation Sans" font-size="10" font-weight="normal" font-style="normal" text-anchor="middle" fill="#333" >140</text>
<text x="651.88" y="354" font-family="Liberation Sans" font-size="10" font-weight="normal" font-style="normal" text-anchor="middle" fill="#333" >150</text>
<text x="696.75" y="354" font-family="Liberation Sans" font-size="10" font-weight="normal" font-style="normal" text-anchor="middle" fill="#333" >160</text>
<text x="741.62" y="354" font-family="Liberation Sans" font-size="10" font-weight="normal" font-style="normal" text-anchor="middle" fill="#333" >170</text>
<text x="786.5" y="354" font-family="Liberation Sans" font-size="10" font-weight="normal" font-style="normal" text-anchor="middle" fill="#333" >180</text>
<text transform="translate(398.6,268) rotate(-90)" font-family="Liberation Sans" font-size="12.1" text-anchor="middle" fill="#222">Signal (Normalized)</text>
<text x="607.8" y="375.5" font-family="Liberation Sans" font-size="12.2" font-weight="normal" font-style="normal" text-anchor="middle" fill="#222" >Photon energy (meV)</text>
<path d="M465.9,204V339" stroke="#666" stroke-width="1.6" stroke-dasharray="3.2 2.8"/>
<path d="M555.8,204V339" stroke="#5a86ec" stroke-width="1.4" stroke-dasharray="3.2 2.8"/>
<path d="M623.8,204V339" stroke="#ee6a6a" stroke-width="1.4" stroke-dasharray="3.2 2.8"/>
<polyline points="428.2,338.51 429.2,338.51 430.2,338.51 431.2,338.51 432.2,338.51 433.2,338.51 434.2,338.5 435.2,338.5 436.2,338.5 437.2,338.5 438.2,338.5 439.2,338.5 440.2,338.49 441.2,338.49 442.2,338.49 443.2,338.49 444.2,338.48 445.2,338.48 446.2,338.47 447.2,338.47 448.2,338.47 449.2,338.46 450.2,338.46 451.2,338.45 452.2,338.44 453.2,338.44 454.2,338.43 455.2,338.42 456.2,338.41 457.2,338.41 458.2,338.4 459.2,338.38 460.2,338.37 461.2,338.36 462.2,338.35 463.2,338.33 464.2,338.32 465.2,338.3 466.2,338.28 467.2,338.26 468.2,338.23 469.2,338.21 470.2,338.18 471.2,338.15 472.2,338.12 473.2,338.09 474.2,338.05 475.2,338.01 476.2,337.97 477.2,337.92 478.2,337.87 479.2,337.81 480.2,337.75 481.2,337.68 482.2,337.61 483.2,337.53 484.2,337.45 485.2,337.36 486.2,337.26 487.2,337.15 488.2,337.04 489.2,336.91 490.2,336.77 491.2,336.62 492.2,336.46 493.2,336.29 494.2,336.1 495.2,335.9 496.2,335.68 497.2,335.44 498.2,335.19 499.2,334.91 500.2,334.61 501.2,334.29 502.2,333.94 503.2,333.57 504.2,333.17 505.2,332.74 506.2,332.27 507.2,331.77 508.2,331.24 509.2,330.66 510.2,330.04 511.2,329.38 512.2,328.68 513.2,327.92 514.2,327.11 515.2,326.25 516.2,325.33 517.2,324.35 518.2,323.3 519.2,322.19 520.2,321.02 521.2,319.77 522.2,318.44 523.2,317.04 524.2,315.56 525.2,314 526.2,312.35 527.2,310.61 528.2,308.79 529.2,306.88 530.2,304.88 531.2,302.78 532.2,300.59 533.2,298.31 534.2,295.94 535.2,293.48 536.2,290.92 537.2,288.28 538.2,285.55 539.2,282.74 540.2,279.86 541.2,276.9 542.2,273.87 543.2,270.78 544.2,267.64 545.2,264.45 546.2,261.22 547.2,257.97 548.2,254.69 549.2,251.41 550.2,248.13 551.2,244.86 552.2,241.63 553.2,238.43 554.2,235.29 555.2,232.21 556.2,229.22 557.2,226.32 558.2,223.52 559.2,220.86 560.2,218.32 561.2,215.94 562.2,213.71 563.2,211.66 564.2,209.79 565.2,208.12 566.2,206.65 567.2,205.39 568.2,204.36 569.2,203.54 570.2,202.96 571.2,202.61 572.2,202.5 573.2,202.53 574.2,202.62 575.2,202.76 576.2,202.97 577.2,203.23 578.2,203.55 579.2,203.92 580.2,204.35 581.2,204.84 582.2,205.38 583.2,205.97 584.2,206.62 585.2,207.32 586.2,208.06 587.2,208.86 588.2,209.71 589.2,210.6 590.2,211.53 591.2,212.51 592.2,213.54 593.2,214.6 594.2,215.7 595.2,216.84 596.2,218.02 597.2,219.23 598.2,220.47 599.2,221.75 600.2,223.05 601.2,224.38 602.2,225.74 603.2,227.12 604.2,228.53 605.2,229.95 606.2,231.39 607.2,232.85 608.2,234.33 609.2,235.82 610.2,237.32 611.2,238.83 612.2,240.35 613.2,241.88 614.2,243.42 615.2,244.96 616.2,246.5 617.2,248.04 618.2,249.58 619.2,251.13 620.2,252.67 621.2,254.2 622.2,255.73 623.2,257.26 624.2,258.78 625.2,260.29 626.2,261.79 627.2,263.28 628.2,264.76 629.2,266.23 630.2,267.68 631.2,269.12 632.2,270.55 633.2,271.97 634.2,273.36 635.2,274.74 636.2,276.11 637.2,277.46 638.2,278.79 639.2,280.1 640.2,281.39 641.2,282.67 642.2,283.93 643.2,285.17 644.2,286.38 645.2,287.58 646.2,288.76 647.2,289.92 648.2,291.06 649.2,292.18 650.2,293.28 651.2,294.36 652.2,295.42 653.2,296.46 654.2,297.48 655.2,298.48 656.2,299.46 657.2,300.42 658.2,301.36 659.2,302.28 660.2,303.18 661.2,304.06 662.2,304.93 663.2,305.77 664.2,306.6 665.2,307.41 666.2,308.2 667.2,308.97 668.2,309.73 669.2,310.47 670.2,311.19 671.2,311.89 672.2,312.58 673.2,313.25 674.2,313.91 675.2,314.55 676.2,315.17 677.2,315.78 678.2,316.37 679.2,316.95 680.2,317.52 681.2,318.07 682.2,318.61 683.2,319.13 684.2,319.64 685.2,320.14 686.2,320.62 687.2,321.1 688.2,321.56 689.2,322 690.2,322.44 691.2,322.87 692.2,323.28 693.2,323.69 694.2,324.08 695.2,324.46 696.2,324.83 697.2,325.2 698.2,325.55 699.2,325.89 700.2,326.23 701.2,326.56 702.2,326.87 703.2,327.18 704.2,327.48 705.2,327.77 706.2,328.06 707.2,328.34 708.2,328.6 709.2,328.87 710.2,329.12 711.2,329.37 712.2,329.61 713.2,329.85 714.2,330.08 715.2,330.3 716.2,330.51 717.2,330.72 718.2,330.93 719.2,331.13 720.2,331.32 721.2,331.51 722.2,331.69 723.2,331.87 724.2,332.04 725.2,332.21 726.2,332.38 727.2,332.54 728.2,332.69 729.2,332.84 730.2,332.99 731.2,333.13 732.2,333.27 733.2,333.41 734.2,333.54 735.2,333.67 736.2,333.79 737.2,333.91 738.2,334.03 739.2,334.15 740.2,334.26 741.2,334.37 742.2,334.47 743.2,334.57 744.2,334.67 745.2,334.77 746.2,334.87 747.2,334.96 748.2,335.05 749.2,335.13 750.2,335.22 751.2,335.3 752.2,335.38 753.2,335.46 754.2,335.54 755.2,335.61 756.2,335.68 757.2,335.75 758.2,335.82 759.2,335.89 760.2,335.95 761.2,336.02 762.2,336.08 763.2,336.14 764.2,336.19 765.2,336.25 766.2,336.31 767.2,336.36 768.2,336.41 769.2,336.46 770.2,336.51 771.2,336.56 772.2,336.61 773.2,336.65 774.2,336.7 775.2,336.74 776.2,336.78 777.2,336.83 778.2,336.87 779.2,336.9 780.2,336.94 781.2,336.98 782.2,337.02 783.2,337.05 784.2,337.09 785.2,337.12 786,337.15" fill="none" stroke="#e2321e" stroke-width="1.5"/>
<polyline points="428.2,333.73 429.2,333.62 430.2,333.51 431.2,333.39 432.2,333.28 433.2,333.16 434.2,333.04 435.2,332.91 436.2,332.79 437.2,332.66 438.2,332.52 439.2,332.38 440.2,332.24 441.2,332.1 442.2,331.95 443.2,331.8 444.2,331.64 445.2,331.48 446.2,331.32 447.2,331.15 448.2,330.98 449.2,330.8 450.2,330.62 451.2,330.43 452.2,330.24 453.2,330.04 454.2,329.84 455.2,329.63 456.2,329.42 457.2,329.2 458.2,328.97 459.2,328.74 460.2,328.5 461.2,328.25 462.2,328 463.2,327.73 464.2,327.46 465.2,327.19 466.2,326.9 467.2,326.6 468.2,326.3 469.2,325.99 470.2,325.66 471.2,325.33 472.2,324.98 473.2,324.63 474.2,324.26 475.2,323.88 476.2,323.49 477.2,323.09 478.2,322.67 479.2,322.24 480.2,321.79 481.2,321.33 482.2,320.85 483.2,320.36 484.2,319.85 485.2,319.32 486.2,318.77 487.2,318.2 488.2,317.62 489.2,317.01 490.2,316.38 491.2,315.72 492.2,315.05 493.2,314.34 494.2,313.62 495.2,312.86 496.2,312.08 497.2,311.26 498.2,310.42 499.2,309.54 500.2,308.63 501.2,307.68 502.2,306.7 503.2,305.68 504.2,304.61 505.2,303.51 506.2,302.37 507.2,301.18 508.2,299.94 509.2,298.65 510.2,297.32 511.2,295.93 512.2,294.48 513.2,292.99 514.2,291.43 515.2,289.81 516.2,288.13 517.2,286.39 518.2,284.58 519.2,282.71 520.2,280.77 521.2,278.76 522.2,276.68 523.2,274.53 524.2,272.3 525.2,270.01 526.2,267.65 527.2,265.21 528.2,262.71 529.2,260.15 530.2,257.52 531.2,254.83 532.2,252.09 533.2,249.31 534.2,246.49 535.2,243.63 536.2,240.76 537.2,237.87 538.2,234.99 539.2,232.12 540.2,229.29 541.2,226.5 542.2,223.78 543.2,221.14 544.2,218.61 545.2,216.2 546.2,213.93 547.2,211.83 548.2,209.9 549.2,208.18 550.2,206.68 551.2,205.41 552.2,204.39 553.2,203.63 554.2,203.13 555.2,202.91 556.2,202.94 557.2,203.13 558.2,203.48 559.2,203.99 560.2,204.64 561.2,205.45 562.2,206.4 563.2,207.48 564.2,208.7 565.2,210.03 566.2,211.48 567.2,213.03 568.2,214.68 569.2,216.41 570.2,218.22 571.2,220.1 572.2,222.05 573.2,224.04 574.2,226.07 575.2,228.14 576.2,230.23 577.2,232.35 578.2,234.47 579.2,236.61 580.2,238.74 581.2,240.87 582.2,242.99 583.2,245.09 584.2,247.18 585.2,249.24 586.2,251.28 587.2,253.29 588.2,255.27 589.2,257.21 590.2,259.13 591.2,261 592.2,262.84 593.2,264.64 594.2,266.41 595.2,268.13 596.2,269.82 597.2,271.46 598.2,273.07 599.2,274.63 600.2,276.16 601.2,277.65 602.2,279.1 603.2,280.52 604.2,281.89 605.2,283.23 606.2,284.53 607.2,285.8 608.2,287.04 609.2,288.24 610.2,289.4 611.2,290.54 612.2,291.64 613.2,292.71 614.2,293.76 615.2,294.77 616.2,295.76 617.2,296.72 618.2,297.65 619.2,298.56 620.2,299.44 621.2,300.29 622.2,301.13 623.2,301.94 624.2,302.73 625.2,303.49 626.2,304.24 627.2,304.97 628.2,305.67 629.2,306.36 630.2,307.03 631.2,307.68 632.2,308.31 633.2,308.93 634.2,309.53 635.2,310.11 636.2,310.68 637.2,311.24 638.2,311.78 639.2,312.3 640.2,312.82 641.2,313.32 642.2,313.8 643.2,314.28 644.2,314.74 645.2,315.19 646.2,315.63 647.2,316.06 648.2,316.48 649.2,316.89 650.2,317.29 651.2,317.68 652.2,318.06 653.2,318.43 654.2,318.79 655.2,319.14 656.2,319.49 657.2,319.82 658.2,320.15 659.2,320.47 660.2,320.79 661.2,321.1 662.2,321.4 663.2,321.69 664.2,321.98 665.2,322.26 666.2,322.53 667.2,322.8 668.2,323.06 669.2,323.32 670.2,323.57 671.2,323.82 672.2,324.06 673.2,324.29 674.2,324.53 675.2,324.75 676.2,324.97 677.2,325.19 678.2,325.4 679.2,325.61 680.2,325.81 681.2,326.01 682.2,326.21 683.2,326.4 684.2,326.59 685.2,326.77 686.2,326.95 687.2,327.13 688.2,327.3 689.2,327.47 690.2,327.64 691.2,327.8 692.2,327.96 693.2,328.12 694.2,328.28 695.2,328.43 696.2,328.58 697.2,328.72 698.2,328.87 699.2,329.01 700.2,329.15 701.2,329.28 702.2,329.42 703.2,329.55 704.2,329.68 705.2,329.8 706.2,329.93 707.2,330.05 708.2,330.17 709.2,330.29 710.2,330.4 711.2,330.52 712.2,330.63 713.2,330.74 714.2,330.85 715.2,330.95 716.2,331.06 717.2,331.16 718.2,331.26 719.2,331.36 720.2,331.46 721.2,331.56 722.2,331.65 723.2,331.75 724.2,331.84 725.2,331.93 726.2,332.02 727.2,332.1 728.2,332.19 729.2,332.28 730.2,332.36 731.2,332.44 732.2,332.52 733.2,332.6 734.2,332.68 735.2,332.76 736.2,332.83 737.2,332.91 738.2,332.98 739.2,333.06 740.2,333.13 741.2,333.2 742.2,333.27 743.2,333.34 744.2,333.4 745.2,333.47 746.2,333.54 747.2,333.6 748.2,333.66 749.2,333.73 750.2,333.79 751.2,333.85 752.2,333.91 753.2,333.97 754.2,334.03 755.2,334.09 756.2,334.14 757.2,334.2 758.2,334.26 759.2,334.31 760.2,334.36 761.2,334.42 762.2,334.47 763.2,334.52 764.2,334.57 765.2,334.62 766.2,334.67 767.2,334.72 768.2,334.77 769.2,334.82 770.2,334.87 771.2,334.91 772.2,334.96 773.2,335.01 774.2,335.05 775.2,335.09 776.2,335.14 777.2,335.18 778.2,335.22 779.2,335.27 780.2,335.31 781.2,335.35 782.2,335.39 783.2,335.43 784.2,335.47 785.2,335.51 786,335.54" fill="none" stroke="#1d58d8" stroke-width="1.5"/>
<polyline points="428.2,335.01 429.2,334.94 430.2,334.86 431.2,334.78 432.2,334.7 433.2,334.62 434.2,334.53 435.2,334.45 436.2,334.36 437.2,334.27 438.2,334.17 439.2,334.08 440.2,333.98 441.2,333.88 442.2,333.77 443.2,333.67 444.2,333.56 445.2,333.45 446.2,333.33 447.2,333.21 448.2,333.09 449.2,332.97 450.2,332.84 451.2,332.7 452.2,332.57 453.2,332.43 454.2,332.29 455.2,332.14 456.2,331.99 457.2,331.83 458.2,331.67 459.2,331.5 460.2,331.33 461.2,331.16 462.2,330.98 463.2,330.79 464.2,330.6 465.2,330.4 466.2,330.19 467.2,329.98 468.2,329.77 469.2,329.54 470.2,329.31 471.2,329.07 472.2,328.82 473.2,328.57 474.2,328.31 475.2,328.03 476.2,327.75 477.2,327.46 478.2,327.16 479.2,326.85 480.2,326.53 481.2,326.2 482.2,325.85 483.2,325.5 484.2,325.13 485.2,324.74 486.2,324.35 487.2,323.94 488.2,323.51 489.2,323.07 490.2,322.61 491.2,322.14 492.2,321.64 493.2,321.13 494.2,320.6 495.2,320.05 496.2,319.48 497.2,318.88 498.2,318.26 499.2,317.62 500.2,316.95 501.2,316.25 502.2,315.53 503.2,314.78 504.2,314 505.2,313.18 506.2,312.33 507.2,311.45 508.2,310.53 509.2,309.57 510.2,308.57 511.2,307.53 512.2,306.45 513.2,305.32 514.2,304.14 515.2,302.92 516.2,301.64 517.2,300.31 518.2,298.92 519.2,297.48 520.2,295.97 521.2,294.41 522.2,292.78 523.2,291.08 524.2,289.32 525.2,287.48 526.2,285.57 527.2,283.59 528.2,281.53 529.2,279.4 530.2,277.19 531.2,274.9 532.2,272.53 533.2,270.09 534.2,267.57 535.2,264.97 536.2,262.31 537.2,259.57 538.2,256.77 539.2,253.91 540.2,251 541.2,248.05 542.2,245.06 543.2,242.04 544.2,239.01 545.2,235.98 546.2,232.97 547.2,229.99 548.2,227.06 549.2,224.2 550.2,221.43 551.2,218.76 552.2,216.23 553.2,213.85 554.2,211.64 555.2,209.62 556.2,207.82 557.2,206.26 558.2,204.94 559.2,203.88 560.2,203.11 561.2,202.61 562.2,202.41 563.2,202.49 564.2,202.86 565.2,203.5 566.2,204.42 567.2,205.59 568.2,207.01 569.2,208.65 570.2,210.51 571.2,212.55 572.2,214.76 573.2,217.13 574.2,219.62 575.2,222.21 576.2,224.89 577.2,227.64 578.2,230.43 579.2,233.26 580.2,236.09 581.2,238.93 582.2,241.76 583.2,244.57 584.2,247.34 585.2,250.07 586.2,252.75 587.2,255.38 588.2,257.95 589.2,260.46 590.2,262.9 591.2,265.27 592.2,267.58 593.2,269.81 594.2,271.98 595.2,274.08 596.2,276.1 597.2,278.06 598.2,279.95 599.2,281.77 600.2,283.53 601.2,285.23 602.2,286.86 603.2,288.44 604.2,289.95 605.2,291.42 606.2,292.82 607.2,294.18 608.2,295.49 609.2,296.74 610.2,297.95 611.2,299.12 612.2,300.25 613.2,301.33 614.2,302.37 615.2,303.38 616.2,304.35 617.2,305.28 618.2,306.18 619.2,307.05 620.2,307.89 621.2,308.69 622.2,309.47 623.2,310.23 624.2,310.95 625.2,311.66 626.2,312.33 627.2,312.99 628.2,313.62 629.2,314.23 630.2,314.82 631.2,315.39 632.2,315.95 633.2,316.48 634.2,317 635.2,317.5 636.2,317.99 637.2,318.46 638.2,318.91 639.2,319.35 640.2,319.78 641.2,320.2 642.2,320.6 643.2,320.99 644.2,321.37 645.2,321.73 646.2,322.09 647.2,322.44 648.2,322.77 649.2,323.1 650.2,323.42 651.2,323.73 652.2,324.02 653.2,324.32 654.2,324.6 655.2,324.88 656.2,325.14 657.2,325.4 658.2,325.66 659.2,325.91 660.2,326.15 661.2,326.38 662.2,326.61 663.2,326.83 664.2,327.05 665.2,327.26 666.2,327.47 667.2,327.67 668.2,327.86 669.2,328.05 670.2,328.24 671.2,328.42 672.2,328.6 673.2,328.77 674.2,328.94 675.2,329.11 676.2,329.27 677.2,329.43 678.2,329.58 679.2,329.73 680.2,329.88 681.2,330.02 682.2,330.16 683.2,330.3 684.2,330.43 685.2,330.57 686.2,330.69 687.2,330.82 688.2,330.94 689.2,331.06 690.2,331.18 691.2,331.3 692.2,331.41 693.2,331.52 694.2,331.63 695.2,331.73 696.2,331.84 697.2,331.94 698.2,332.04 699.2,332.14 700.2,332.23 701.2,332.33 702.2,332.42 703.2,332.51 704.2,332.6 705.2,332.69 706.2,332.77 707.2,332.85 708.2,332.94 709.2,333.02 710.2,333.1 711.2,333.17 712.2,333.25 713.2,333.32 714.2,333.4 715.2,333.47 716.2,333.54 717.2,333.61 718.2,333.68 719.2,333.74 720.2,333.81 721.2,333.87 722.2,333.94 723.2,334 724.2,334.06 725.2,334.12 726.2,334.18 727.2,334.24 728.2,334.3 729.2,334.35 730.2,334.41 731.2,334.46 732.2,334.52 733.2,334.57 734.2,334.62 735.2,334.67 736.2,334.72 737.2,334.77 738.2,334.82 739.2,334.87 740.2,334.91 741.2,334.96 742.2,335.01 743.2,335.05 744.2,335.09 745.2,335.14 746.2,335.18 747.2,335.22 748.2,335.26 749.2,335.3 750.2,335.34 751.2,335.38 752.2,335.42 753.2,335.46 754.2,335.5 755.2,335.54 756.2,335.57 757.2,335.61 758.2,335.65 759.2,335.68 760.2,335.72 761.2,335.75 762.2,335.78 763.2,335.82 764.2,335.85 765.2,335.88 766.2,335.91 767.2,335.95 768.2,335.98 769.2,336.01 770.2,336.04 771.2,336.07 772.2,336.1 773.2,336.13 774.2,336.15 775.2,336.18 776.2,336.21 777.2,336.24 778.2,336.26 779.2,336.29 780.2,336.32 781.2,336.34 782.2,336.37 783.2,336.39 784.2,336.42 785.2,336.44 786,336.46" fill="none" stroke="#222" stroke-width="1.25" stroke-dasharray="0.9 0.9"/>
<path d="M647.4,216.6H664.7" stroke="#1d58d8" stroke-width="1.5"/>
<path d="M647.4,231.6H664.7" stroke="#e2321e" stroke-width="1.5"/>
<path d="M647.4,246.6H664.7" stroke="#111" stroke-width="1.1" stroke-dasharray="1.2 1.2"/>
<text x="667.6" y="220.5" font-family="Liberation Sans" font-size="8.7" font-weight="normal" font-style="normal" text-anchor="start" fill="#333" >absorption</text>
<text x="667.6" y="235.5" font-family="Liberation Sans" font-size="8.7" font-weight="normal" font-style="normal" text-anchor="start" fill="#333" >Photocurrent (full model)</text>
<text x="667.6" y="250.5" font-family="Liberation Sans" font-size="8.7" font-weight="normal" font-style="normal" text-anchor="start" fill="#333" >Photocurrent (conventional model)</text>
<text x="23" y="277.5" font-family="Liberation Sans" font-size="14" font-weight="bold" font-style="normal" text-anchor="start" fill="#111" >d</text>
<polygon points="57.6,290.2 55.3,295.5 41.4,309.4 31,321 11.5,361.4 36.2,338.3 47.9,325.3" fill="#a9daf2"/>
<polygon points="49.3,302.2 48.4,302.5 41.4,309.4 31,321 11.5,361.4 36.2,338.3" fill="#8088e2"/>
<polygon points="36.2,338.2 146.8,338 116.7,361.3 11.5,361.4" fill="#2e3494"/>
<polygon points="47,328 164.5,327.5 146.8,337.7 36.9,337.7" fill="#4b8fd5"/>
<path d="M37,338H147" stroke="#3a9a5a" stroke-width="1"/>
<polygon points="47.9,325 164.5,325 164.5,327.2 47.3,327.2" fill="#e0a020"/>
<path d="M47.3,327.6H164" stroke="#5a9a40" stroke-width="0.8"/>
<polygon points="57.6,290.2 141.1,290.7 164.5,325.1 47.9,325.3" fill="#fce64a"/>
<polyline points="27,326.5 66.7,360.5 110.1,327.9 151.9,362.7" fill="none" stroke="#f01010" stroke-width="2"/>
<polygon points="24,323.9 34.5,327.5 28.6,333.4" fill="#f01010"/>
<polygon points="66.7,360.8 70,351.2 77.9,358.4" fill="#f01010"/>
<polygon points="110.5,328 120.5,331 115.5,336.5" fill="#f01010"/>
<path transform="translate(0,0)" d="M151.5,349.4 Q152.6,347.2 153.9,349.4 L154.5,352.8 M157.1,347.9 Q155.6,350 154.5,352.8 L153.7,355" fill="none" stroke="#1a1a1a" stroke-width="1.25" stroke-linecap="round"/>
<text x="206.5" y="273" font-family="Liberation Sans" font-size="14" font-weight="bold" font-style="normal" text-anchor="start" fill="#111" >e</text>
<polygon points="194.4,333 339.3,333 295.8,362.3 201.4,361.7" fill="#2e3494"/>
<path d="M194.4,332.3H339.3" stroke="#d9a020" stroke-width="1.4"/>
<polygon points="217.1,290.1 316.7,290.1 339.3,331.4 194.4,331.4" fill="#fce64a"/>
<defs><linearGradient id="gw" x1="0" x2="1" y1="0" y2="0"><stop offset="0" stop-color="#4a8ed6"/><stop offset="0.5" stop-color="#5ba4ea"/><stop offset="1" stop-color="#6ab2f0"/></linearGradient><linearGradient id="gg" x1="0" x2="1" y1="0" y2="0"><stop offset="0" stop-color="#3aa860"/><stop offset="1" stop-color="#74d08a"/></linearGradient></defs>
<ellipse cx="296.5" cy="309.2" rx="23.2" ry="8.7" fill="url(#gg)"/>
<path d="M279.2,296.5 V308.4 A17.9,6.3 0 0 0 315,308.4 V296.5 Z" fill="url(#gw)"/>
<path d="M279.2,296.5 A17.9,7.6 0 0 0 315,296.5" fill="none" stroke="#4aa860" stroke-width="1.8"/>
<path d="M279.2,296 A17.9,7.6 0 0 0 315,296" fill="none" stroke="#e8a020" stroke-width="1.2"/>
<ellipse cx="297.1" cy="295.6" rx="17.9" ry="7.6" fill="#fce64a"/>
<path d="M232,307 C230,290 245,276 264,276 C282,276 296,284 299,295" fill="none" stroke="#e87a30" stroke-width="1.8"/>
<circle cx="264.1" cy="274.9" r="6.6" fill="#fff" stroke="#1a1a1a" stroke-width="1.3"/>
<text x="264.1" y="278.4" font-family="Liberation Sans" font-size="9.6" font-weight="normal" font-style="normal" text-anchor="middle" fill="#111" >A</text>
<path d="M304.1,290.7 C301,281 295,276 286,274.5" fill="none" stroke="#16a6e6" stroke-width="2"/>
<polygon points="281.4,273.4 290.8,270.2 289,279.7" fill="#16a6e6"/>
<text x="300.3" y="276.8" font-family="Liberation Serif" font-size="11.5" font-weight="bold" font-style="italic" fill="#222">e</text>
<path d="M306.6,270.2H310.7" stroke="#222" stroke-width="0.9"/>
<polyline points="336.2,360.5 299,314" fill="none" stroke="#f01010" stroke-width="2"/>
<polygon points="295.9,309.7 306.6,314.1 298.4,320.4" fill="#f01010"/>
<path transform="translate(185.9,2.9)" d="M151.5,349.4 Q152.6,347.2 153.9,349.4 L154.5,352.8 M157.1,347.9 Q155.6,350 154.5,352.8 L153.7,355" fill="none" stroke="#1a1a1a" stroke-width="1.25" stroke-linecap="round"/>
</svg>
</body></html>
